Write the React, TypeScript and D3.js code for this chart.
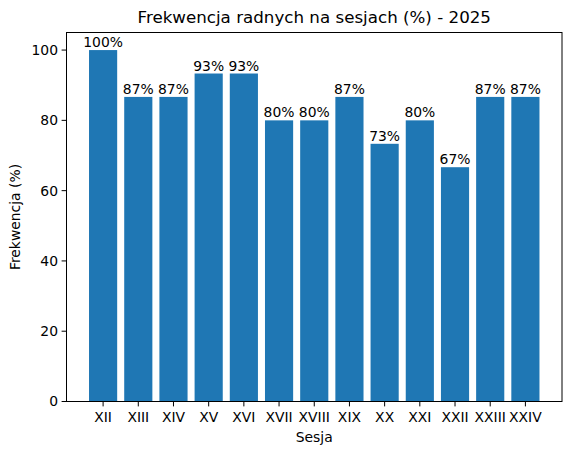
import React, { useEffect, useRef } from "react";
import * as d3 from "d3";

const sessions = ["XII", "XIII", "XIV", "XV", "XVI", "XVII", "XVIII", "XIX", "XX", "XXI", "XXII", "XXIII", "XXIV"];
const attendance = [100, 86.67, 86.67, 93.33, 93.33, 80, 80, 86.67, 73.33, 80, 66.67, 86.67, 86.67];
const yTicks = [0, 20, 40, 60, 80, 100];

const W = 571;
const H = 455;
const M = { left: 66.5, right: 562, top: 32.5, bottom: 401.5 };
const FONT = "DejaVu Sans, sans-serif";
const FS = "13.9px";

export default function App() {
  const svgRef = useRef<SVGSVGElement | null>(null);

  useEffect(() => {
    if (!svgRef.current) return;
    const svg = d3.select(svgRef.current);
    svg.selectAll("*").remove();

    const n = sessions.length;
    // matplotlib-like margins: bars span -0.4..n-0.6, 5% padding
    const lo = -0.4, hi = n - 1 + 0.4;
    const pad = (hi - lo) * 0.05;
    const x = d3.scaleLinear().domain([lo - pad, hi + pad]).range([M.left, M.right]);
    const y = d3.scaleLinear().domain([0, 105]).range([M.bottom, M.top]);

    svg.append("rect").attr("width", W).attr("height", H).attr("fill", "#fff");

    // bars
    svg.selectAll(".bar")
      .data(attendance)
      .enter()
      .append("rect")
      .attr("x", (_, i) => x(i - 0.4))
      .attr("width", x(0.8) - x(0))
      .attr("y", (d) => y(d))
      .attr("height", (d) => y(0) - y(d))
      .attr("fill", "#1f77b4");

    // value labels
    svg.selectAll(".lbl")
      .data(attendance)
      .enter()
      .append("text")
      .attr("x", (_, i) => x(i))
      .attr("y", (d) => y(d) - 3)
      .attr("text-anchor", "middle")
      .style("font-family", FONT)
      .style("font-size", FS)
      .attr("fill", "#000")
      .text((d) => `${Math.round(d)}%`);

    // frame
    svg.append("rect")
      .attr("x", M.left).attr("y", M.top)
      .attr("width", M.right - M.left).attr("height", M.bottom - M.top)
      .attr("fill", "none").attr("stroke", "#000").attr("stroke-width", 1);

    // x ticks
    const xt = svg.append("g");
    sessions.forEach((s, i) => {
      xt.append("line").attr("x1", x(i)).attr("x2", x(i))
        .attr("y1", M.bottom).attr("y2", M.bottom + 4.9).attr("stroke", "#000");
      xt.append("text").attr("x", x(i)).attr("y", M.bottom + 20.5)
        .attr("text-anchor", "middle")
        .style("font-family", FONT).style("font-size", FS)
        .text(s);
    });

    // y ticks
    const yt = svg.append("g");
    yTicks.forEach((t) => {
      yt.append("line").attr("x1", M.left - 4.9).attr("x2", M.left)
        .attr("y1", y(t)).attr("y2", y(t)).attr("stroke", "#000");
      yt.append("text").attr("x", M.left - 8.5).attr("y", y(t))
        .attr("dy", "0.35em").attr("text-anchor", "end")
        .style("font-family", FONT).style("font-size", FS)
        .text(String(t));
    });

    // axis titles
    svg.append("text").attr("x", (M.left + M.right) / 2).attr("y", 442)
      .attr("text-anchor", "middle")
      .style("font-family", FONT).style("font-size", FS)
      .text("Sesja");
    svg.append("text")
      .attr("transform", `translate(20, ${(M.top + M.bottom) / 2}) rotate(-90)`)
      .attr("text-anchor", "middle")
      .style("font-family", FONT).style("font-size", FS)
      .text("Frekwencja (%)");

    svg.append("text").attr("x", (M.left + M.right) / 2).attr("y", 23)
      .attr("text-anchor", "middle")
      .style("font-family", FONT).style("font-size", "16.7px")
      .text("Frekwencja radnych na sesjach (%) - 2025");
  }, []);

  return (
    <svg ref={svgRef} width={W} height={H}
      style={{ position: "absolute", left: 0, top: 0, display: "block" }} />
  );
}
